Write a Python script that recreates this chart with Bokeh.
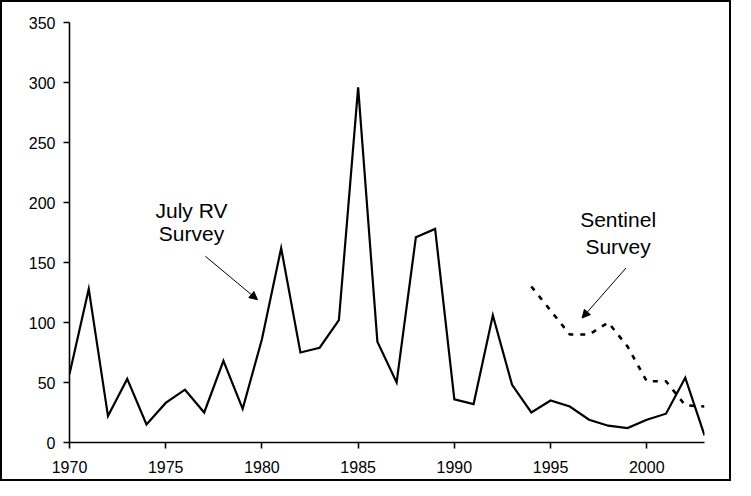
from bokeh.plotting import figure
from bokeh.models import Range1d, FixedTicker, Arrow, NormalHead
from bokeh.core.properties import value
from bokeh.embed import file_html
from bokeh.resources import INLINE

years = list(range(1970, 2004))
july_rv = [57, 128, 22, 53, 15, 33, 44, 25, 68, 28,
           86, 162, 75, 79, 102, 296, 84, 50, 171, 178,
           36, 32, 106, 48, 25, 35, 30, 19, 14, 12,
           19, 24, 54, 6]
sent_years = list(range(1994, 2004))
sentinel = [130, 110, 90, 90, 100, 80, 51, 51, 31, 30]

x_ticks = [1970, 1975, 1980, 1985, 1990, 1995, 2000]
y_ticks = [0, 50, 100, 150, 200, 250, 300, 350]

label_text = ["July RV", "Survey", "Sentinel", "Survey"]
label_x = [1976.34, 1976.34, 1998.51, 1998.51]
label_y = [193.5, 174.0, 186.0, 163.5]

arrow_start_x = [1977.06, 1998.92]
arrow_start_y = [155.2, 145.4]
arrow_end_x = [1979.77, 1996.64]
arrow_end_y = [119.0, 103.75]

FONT = "Liberation Sans"

p = figure(width=731, height=481, output_backend="svg", toolbar_location=None,
           x_range=Range1d(1970, 2003), y_range=Range1d(0, 350))
p.styles = {"border": "2px solid black"}
p.min_border_left = 67
p.min_border_right = 29
p.min_border_top = 20
p.min_border_bottom = 41
p.outline_line_color = None
p.background_fill_color = "white"
p.border_fill_color = "white"
p.xgrid.visible = False
p.ygrid.visible = False

for ax in (p.xaxis[0], p.yaxis[0]):
    ax.axis_line_color = "black"
    ax.axis_line_width = 1.6
    ax.major_tick_line_color = "black"
    ax.major_tick_line_width = 1.6
    ax.major_tick_in = 0
    ax.major_tick_out = 6
    ax.minor_tick_line_color = None
    ax.major_label_text_font = FONT
    ax.major_label_text_font_size = "16px"
    ax.major_label_text_color = "black"

p.xaxis.ticker = FixedTicker(ticks=x_ticks)
p.yaxis.ticker = FixedTicker(ticks=y_ticks)
p.xaxis.major_label_standoff = 12
p.yaxis.major_label_standoff = 8

p.line(years, july_rv, line_color="black", line_width=2.2, line_join="miter")
p.line(sent_years, sentinel, line_color="black", line_width=2.6, line_dash="5 7")

p.text(x=label_x, y=label_y, text=label_text, text_font=value(FONT),
       text_font_size="21px", text_align="center", text_baseline="alphabetic",
       text_color="black")

for i in range(len(arrow_start_x)):
    p.add_layout(Arrow(end=NormalHead(size=8, fill_color="black", line_color="black", line_width=1),
                       x_start=arrow_start_x[i], y_start=arrow_start_y[i],
                       x_end=arrow_end_x[i], y_end=arrow_end_y[i],
                       line_color="black", line_width=1))

open("out.html", "w").write(file_html(p, INLINE))
